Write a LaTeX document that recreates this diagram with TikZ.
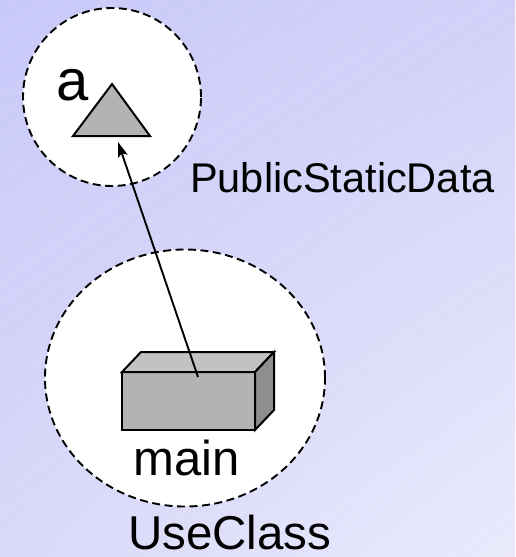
\documentclass[tikz,border=0pt]{standalone}
\usepackage{fontspec}
\setmainfont{Liberation Sans}
\usetikzlibrary{shapes.geometric,arrows.meta,shadings}
\definecolor{bgUL}{HTML}{C9C9F9}
\definecolor{bgUR}{HTML}{D1D1F9}
\definecolor{bgLL}{HTML}{D8D8F9}
\definecolor{bgLR}{HTML}{EAEAFC}
\definecolor{faceFront}{HTML}{B3B3B3}
\definecolor{faceTop}{HTML}{C2C2C2}
\definecolor{faceSide}{HTML}{8E8E8E}
\tikzset{
  pkg/.style={draw=black, fill=white, line width=1.9pt, dash pattern=on 8pt off 4.5pt},
  lbl/.style={inner sep=0pt, anchor=base west, text=black},
  solidshape/.style={draw=black, line width=2pt, line join=miter},
}
\begin{document}
\begin{tikzpicture}[x=1pt,y=-1pt]
\useasboundingbox (0,0) rectangle (515,557);
% background
\shade[upper left=bgUL, upper right=bgUR, lower left=bgLL, lower right=bgLR] (0,0) rectangle (515,557);
\begin{scope}
\clip (0,0) rectangle (515,557);
\foreach \k in {-20,...,30} {
  \draw[white, opacity=0.2, line width=0.5pt] (\k*30-300, 557) -- ++(900,-630);
}
\end{scope}
% packages
\node[pkg, circle, minimum size=178pt, inner sep=0pt] (pubpkg) at (112,97) {};
\node[pkg, ellipse, minimum width=280pt, minimum height=257pt, inner sep=0pt] (usepkg) at (185,378) {};
% triangle (static data member)
\coordinate (triApex) at (112,84);
\coordinate (triLeft) at (73,136);
\coordinate (triRight) at (150,136);
\filldraw[solidshape, fill=faceFront] (triApex) -- (triLeft) -- (triRight) -- cycle;
\coordinate (triTarget) at (118,142);
% box (main method)
\coordinate (fA) at (122,372);
\coordinate (fB) at (255,372);
\coordinate (fC) at (255,430);
\coordinate (fD) at (122,430);
\coordinate (tA) at (141,352);
\coordinate (tB) at (274,352);
\coordinate (sC) at (274,410);
\filldraw[solidshape, fill=faceFront] (fA) -- (fB) -- (fC) -- (fD) -- cycle;
\filldraw[solidshape, fill=faceTop] (fA) -- (tA) -- (tB) -- (fB) -- cycle;
\filldraw[solidshape, fill=faceSide] (fB) -- (tB) -- (sC) -- (fC) -- cycle;
\coordinate (boxRef) at (198,377);
% labels
\node[lbl, font=\fontsize{58}{58}\selectfont] (lblA) at (56,100) {a};
\node[lbl, font=\fontsize{41.5}{42}\selectfont] (lblPub) at (190,192) {PublicStaticData};
\node[lbl, font=\fontsize{49}{49}\selectfont] (lblMain) at (133,475) {main};
\node[lbl, font=\fontsize{47.5}{48}\selectfont] (lblUse) at (128,549) {UseClass};
% dependency arrow
\draw[line width=1.9pt, -{Stealth[length=15pt, width=10pt, inset=3pt]}] (boxRef) -- (triTarget);
\end{tikzpicture}
\end{document}
